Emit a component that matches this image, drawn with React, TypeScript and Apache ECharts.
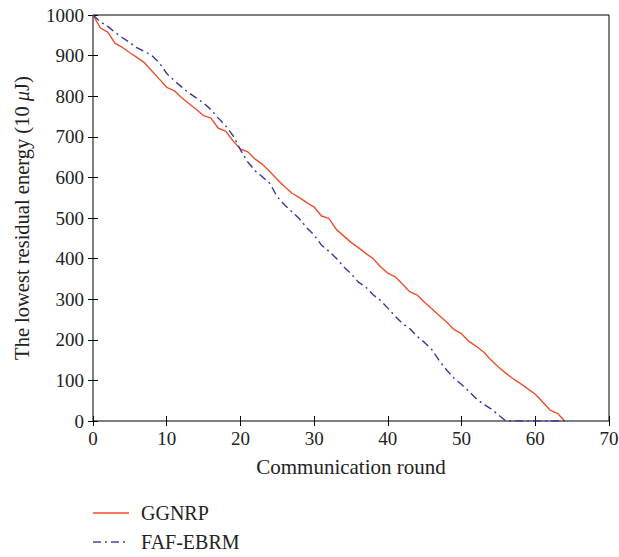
import React, { useEffect, useRef } from "react";
import * as echarts from "echarts";

const rounds = Array.from({ length: 65 }, (_, i) => i);
const ggnrp = [
  1000, 968, 958, 930, 920, 907, 895, 882, 862, 842, 822, 814, 797, 782, 768, 752, 746, 721, 714, 690,
  670, 663, 645, 632, 614, 595, 577, 561, 550, 538, 527, 505, 499, 472, 456, 440, 427, 413, 400, 380,
  364, 355, 337, 318, 310, 292, 276, 259, 243, 225, 215, 196, 184, 170, 150, 133, 118, 104, 92, 79,
  66, 47, 27, 19, 0,
];
const fafEbrm = [
  1000, 983, 972, 957, 944, 932, 919, 910, 900, 882, 856, 839, 823, 808, 796, 783, 767, 746, 727, 703,
  668, 638, 616, 601, 585, 552, 532, 515, 498, 476, 458, 433, 418, 401, 380, 363, 342, 330, 311, 297,
  278, 258, 240, 227, 208, 193, 175, 148, 125, 105, 90, 73, 55, 41, 30, 15, 0, 0, 0, 0,
  0, 0, 0, 0, 0,
];
const seriesNames = ["GGNRP", "FAF-EBRM"];
const xName = "Communication round";
const yName = "The lowest residual energy (10 {i|μ}J)";

const RED = "#EE4E2C";
const BLUE = "#3A339E";
const DASH = [8, 4, 2, 4];

export default function App() {
  const ref = useRef<HTMLDivElement>(null);
  useEffect(() => {
    if (!ref.current) return;
    const chart = echarts.init(ref.current, null, { renderer: "svg" });
    const font = "'Liberation Serif', 'DejaVu Serif', serif";
    const tickCommon = { show: true, inside: true, length: 5, lineStyle: { color: "#000", width: 1 } };
    const legendItems = [
      { name: seriesNames[0], color: "#F07A62", dash: null as any, y: 513 },
      { name: seriesNames[1], color: "#7A72C0", dash: DASH, y: 542 },
    ];
    chart.setOption({
      animation: false,
      textStyle: { fontFamily: font },
      grid: {
        left: 93,
        right: 10,
        top: 15,
        bottom: 136,
        show: true,
        borderColor: "#000",
        borderWidth: 1,
        containLabel: false,
        outerBoundsMode: "none",
      },
      graphic: legendItems.flatMap((it) => [
        {
          type: "line",
          shape: { x1: 93, y1: it.y, x2: 129, y2: it.y },
          style: { stroke: it.color, lineWidth: 2, lineDash: it.dash || undefined },
        },
        {
          type: "text",
          x: 141,
          y: it.y,
          style: { text: it.name, fontFamily: font, fontSize: 20, fill: "#222", verticalAlign: "middle" },
        },
      ]),
      xAxis: [
        {
          type: "value",
          min: 0,
          max: 70,
          interval: 10,
          name: xName,
          nameLocation: "middle",
          nameGap: 35,
          nameTextStyle: { fontFamily: font, fontSize: 21, color: "#222" },
          axisLine: { show: false },
          axisTick: tickCommon,
          splitLine: { show: false },
          axisLabel: { fontFamily: font, fontSize: 19, color: "#222", margin: 8 },
        },
        {
          type: "value",
          position: "top",
          min: 0,
          max: 70,
          interval: 10,
          axisLine: { show: false },
          axisTick: tickCommon,
          splitLine: { show: false },
          axisLabel: { show: false },
        },
      ],
      yAxis: [
        {
          type: "value",
          min: 0,
          max: 1000,
          interval: 100,
          name: yName,
          nameLocation: "middle",
          nameGap: 61,
          nameTextStyle: {
            fontFamily: font,
            fontSize: 20.5,
            color: "#222",
            rich: { i: { fontStyle: "italic", fontFamily: font, fontSize: 20.5, color: "#222" } },
          },
          axisLine: { show: false },
          axisTick: tickCommon,
          splitLine: { show: false },
          axisLabel: { fontFamily: font, fontSize: 19, color: "#222", margin: 9, formatter: (v: number) => String(v) },
        },
        {
          type: "value",
          position: "right",
          min: 0,
          max: 1000,
          interval: 100,
          axisLine: { show: false },
          axisTick: tickCommon,
          splitLine: { show: false },
          axisLabel: { show: false },
        },
      ],
      series: [
        {
          name: seriesNames[0],
          type: "line",
          data: rounds.map((r, i) => [r, ggnrp[i]]),
          showSymbol: false,
          symbol: "none",
          lineStyle: { color: RED, width: 1.4 },
          itemStyle: { color: RED },
        },
        {
          name: seriesNames[1],
          type: "line",
          data: rounds.map((r, i) => [r, fafEbrm[i]]),
          showSymbol: false,
          symbol: "none",
          lineStyle: { color: BLUE, width: 1.4, type: DASH },
          itemStyle: { color: BLUE },
        },
      ],
    });
    return () => chart.dispose();
  }, []);
  return <div ref={ref} style={{ position: "absolute", left: 0, top: 0, width: 619, height: 557 }} />;
}
